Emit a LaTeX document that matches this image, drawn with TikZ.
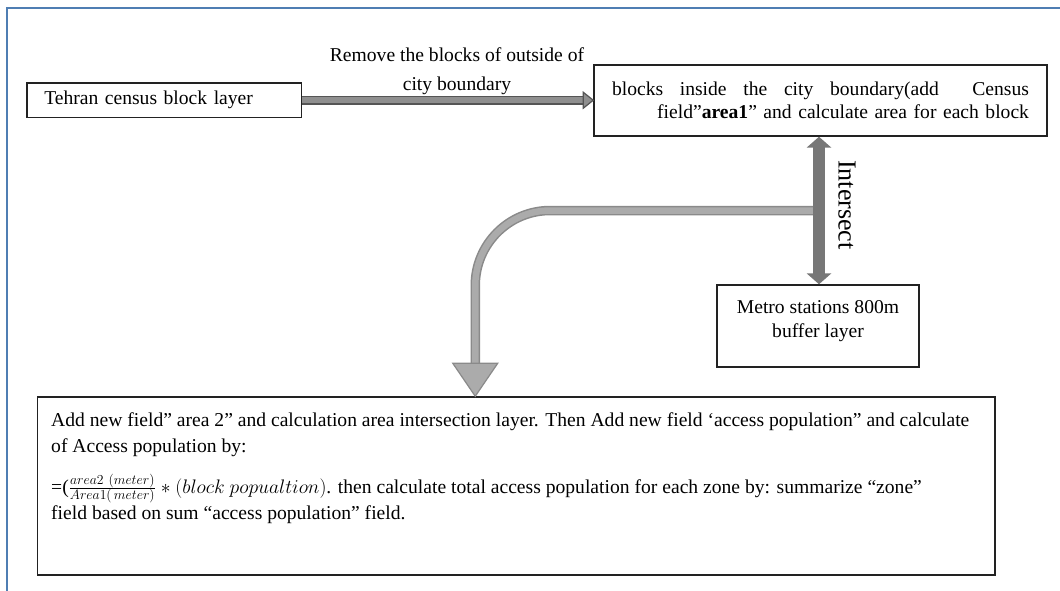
\documentclass[tikz,border=0pt]{standalone}
\usepackage{fix-cm}
\usepackage{fontspec}
\setmainfont{Liberation Serif}
\usetikzlibrary{calc}
\definecolor{framecol}{HTML}{4F7EB3}
\definecolor{boxcol}{HTML}{222222}
\definecolor{harrowfill}{HTML}{8F8F8F}
\definecolor{harrowline}{HTML}{555555}
\definecolor{varrowfill}{HTML}{777777}
\definecolor{carrowfill}{HTML}{ABABAB}
\definecolor{carrowline}{HTML}{8A8A8A}
\tikzset{
  boxnode/.style={draw=boxcol, line width=1.5pt, rectangle, inner sep=0pt},
  txt/.style={inner sep=0pt, font=\fontsize{19.6}{23.3}\selectfont},
}
\begin{document}
\begin{tikzpicture}[x=1pt,y=-1pt]
\useasboundingbox (0,0) rectangle (1060,591);
% outer frame
\draw[framecol, line width=2pt] (6.5,591) -- (6.5,8) -- (1060,8);

% boxes
\node[boxnode, minimum width=274.5pt, minimum height=34.5pt, text width=240pt, inner xsep=17pt, align=left,
      font=\fontsize{19.6}{23.3}\selectfont] (box1) at (164.25,100.25) {Tehran census block layer};

\node[boxnode, minimum width=453pt, minimum height=71pt, text width=417pt, inner xsep=18pt, align=right,
      font=\fontsize{19.6}{23.3}\selectfont] (box2) at (820.5,100.5)
  {\hbox to 417pt{blocks\hfill inside\hfill the\hfill city\hfill boundary(add\hfill\hfill Census}\\
   field”\textbf{area1}” and calculate area for each block};

\node[boxnode, minimum width=202pt, minimum height=82pt] (metro) at (818,326) {};
\node[txt, align=center] (metrotext) at (818,321) {Metro stations 800m\\buffer layer};

\node[boxnode, minimum width=957.3pt, minimum height=178pt] (bot) at (516.35,486) {};
\node[txt, align=left, anchor=north west, font=\fontsize{19.6}{26}\selectfont] (bottext) at (51,412)
  {Add new field” area 2” and calculation area intersection layer. Then Add new field ‘access population” and calculate\\
   of Access population by:\\[15pt]
   =(\smash{$\frac{area2\ (meter)}{Area1(\,meter)}$} $\ast$ $(block\ popualtion)$. then calculate total access population for each zone by: summarize “zone”\\
   field based on sum “access population” field.};

% label of horizontal arrow
\node[txt, align=center, font=\fontsize{19.6}{28.3}\selectfont] (hlabel) at (457,71.3)
  {Remove the blocks of outside of\\city boundary};

% horizontal arrow
\coordinate (h1) at (box1.east);
\coordinate (h2) at (box1.east -| box2.west);
\draw[harrowline, line width=9pt] (h1) -- ($(h2)+(-10,0)$);
\draw[harrowfill, line width=6.5pt] (h1) -- ($(h2)+(-10,0)$);
\filldraw[fill=harrowfill, draw=harrowline, line width=1.2pt, line join=miter]
  (h2) -- ($(h2)+(-10,8)$) -- ($(h2)+(-10,-8)$) -- cycle;

% vertical double arrow coordinates
\coordinate (v1) at ($(box2.south)+(-1.5,0)$);
\coordinate (v2) at (v1 |- metro.north);
\coordinate (tip) at ($(bot.north west)+(438.3,0)$);
\coordinate (c1) at ($($(v1)!0.5!(v2)$)+(-5,0)$);

% curved arrow
\draw[carrowline, line width=9.5pt, rounded corners=75pt] (c1) -| ($(tip)+(0,-32)$);
\draw[carrowfill, line width=6.5pt, rounded corners=75pt] ($(c1)+(-1,0)$) -| ($(tip)+(0,-32)$);
\filldraw[fill=carrowfill, draw=carrowline, line width=1.2pt]
  (tip) -- ($(tip)+(22.5,-33)$) -- ($(tip)+(-22.5,-33)$) -- cycle;

% double arrow
\fill[varrowfill]
  (v1) -- ($(v1)+(12.5,11)$) -- ($(v1)+(5.8,11)$) -- ($(v2)+(5.8,-11)$) -- ($(v2)+(12.5,-11)$)
  -- (v2) -- ($(v2)+(-12.5,-11)$) -- ($(v2)+(-5.8,-11)$) -- ($(v1)+(-5.8,11)$) -- ($(v1)+(-12.5,11)$) -- cycle;
\node[inner sep=0pt, rotate=-90, font=\fontsize{26}{30}\selectfont] (isect) at (847,205) {Intersect};
\end{tikzpicture}
\end{document}
